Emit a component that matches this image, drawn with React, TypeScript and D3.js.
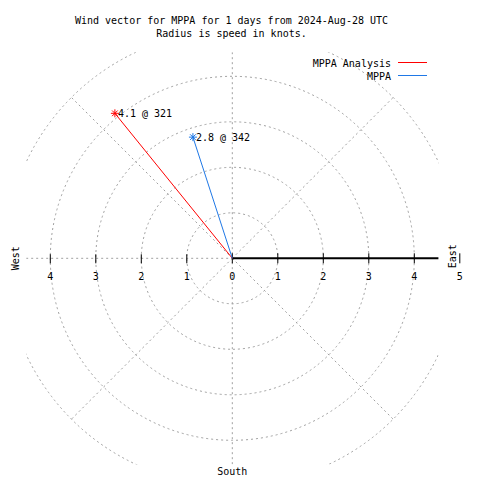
import React from "react";
import * as d3 from "d3";

const seriesNames = ["MPPA Analysis", "MPPA"];
const speeds = [4.1, 2.8];
const directions = [321, 342];
const ringValues = [1, 2, 3, 4, 5];
const eastTicks = [0, 1, 2, 3, 4, 5];
const westTicks = [1, 2, 3, 4];
const diagonalBearings = [45, 135, 225, 315];
const titleLines = [
  "Wind vector for MPPA for 1 days from 2024-Aug-28 UTC",
  "Radius is speed in knots.",
];

const COLORS = ["#ff0000", "#1f78e6"];
const W = 480;
const H = 480;
const CX = 232.3;
const CY = 258.3;
const FONT = "'DejaVu Sans Mono', monospace";
const GRID = "#a0a0a0";

export default function App() {
  const r = d3.scaleLinear().domain([0, 5]).range([0, 227.5]);
  const half = r(4.53);
  const clip = { x: CX - half, y: CY - half, w: 2 * half, h: 2 * half };
  const pt = (speed: number, bearing: number) => {
    const a = (bearing * Math.PI) / 180;
    return [CX + r(speed) * Math.sin(a), CY - r(speed) * Math.cos(a)];
  };
  const star = (x: number, y: number, color: string, key: string) => {
    const s = 4;
    const lines = [0, 45, 90, 135].map((ang) => {
      const a = (ang * Math.PI) / 180;
      return (
        <line
          key={ang}
          x1={x - s * Math.cos(a)}
          y1={y - s * Math.sin(a)}
          x2={x + s * Math.cos(a)}
          y2={y + s * Math.sin(a)}
          stroke={color}
          strokeWidth={1}
        />
      );
    });
    return <g key={key}>{lines}</g>;
  };

  return (
    <svg
      width={W}
      height={H}
      style={{ position: "absolute", left: 0, top: 0, background: "#fff" }}
      fontFamily={FONT}
      fontSize={10}
    >
      <defs>
        <clipPath id="plotclip">
          <rect x={clip.x} y={clip.y} width={clip.w} height={clip.h} />
        </clipPath>
      </defs>
      <rect x={0} y={0} width={W} height={H} fill="#fff" />
      {titleLines.map((t, i) => (
        <text key={i} x={231.5} y={24 + i * 13} textAnchor="middle" fill="#000">
          {t}
        </text>
      ))}
      <g clipPath="url(#plotclip)">
        {ringValues.map((v) => (
          <circle
            key={v}
            cx={CX}
            cy={CY}
            r={r(v)}
            fill="none"
            stroke={GRID}
            strokeDasharray="2,3"
          />
        ))}
        {diagonalBearings.map((b) => {
          const [x, y] = pt(5, b);
          return (
            <line key={b} x1={CX} y1={CY} x2={x} y2={y} stroke={GRID} strokeDasharray="2,3" />
          );
        })}
        <line x1={CX} y1={clip.y} x2={CX} y2={clip.y + clip.h} stroke={GRID} strokeDasharray="2,3" />
        <line x1={clip.x} y1={CY} x2={CX} y2={CY} stroke={GRID} strokeDasharray="2,3" />
      </g>
      <line x1={CX} y1={CY} x2={clip.x + clip.w} y2={CY} stroke="#000" strokeWidth={2} />
      {eastTicks.map((t) => (
        <g key={"e" + t}>
          <line x1={CX + r(t)} y1={CY - 5} x2={CX + r(t)} y2={CY + 5} stroke="#000" />
          <text x={CX + r(t)} y={280} textAnchor="middle" fill="#000">
            {t}
          </text>
        </g>
      ))}
      {westTicks.map((t) => (
        <g key={"w" + t}>
          <line x1={CX - r(t)} y1={CY - 4} x2={CX - r(t)} y2={CY + 5} stroke="#000" />
          <text x={CX - r(t)} y={280} textAnchor="middle" fill="#000">
            {t}
          </text>
        </g>
      ))}
      <text transform={`translate(18.7,${CY}) rotate(-90)`} textAnchor="middle" fill="#000">
        West
      </text>
      <text transform={`translate(455.5,${CY - 2}) rotate(-90)`} textAnchor="middle" fill="#000">
        East
      </text>
      <text x={CX} y={475} textAnchor="middle" fill="#000">
        South
      </text>
      {speeds.map((s, i) => {
        const [x, y] = pt(s, directions[i]);
        return (
          <g key={i}>
            <line x1={CX} y1={CY} x2={x} y2={y} stroke={COLORS[i]} strokeWidth={1} />
            {star(x, y, COLORS[i], "s" + i)}
            <text x={x + 3} y={y + 4} fill="#000">
              {`${s} @ ${directions[i]}`}
            </text>
          </g>
        );
      })}
      {seriesNames.map((n, i) => (
        <g key={n}>
          <text x={391} y={67 + i * 13} textAnchor="end" fill="#000">
            {n}
          </text>
          <line x1={398} y1={62.5 + i * 13} x2={427} y2={62.5 + i * 13} stroke={COLORS[i]} strokeWidth={1} />
        </g>
      ))}
    </svg>
  );
}
